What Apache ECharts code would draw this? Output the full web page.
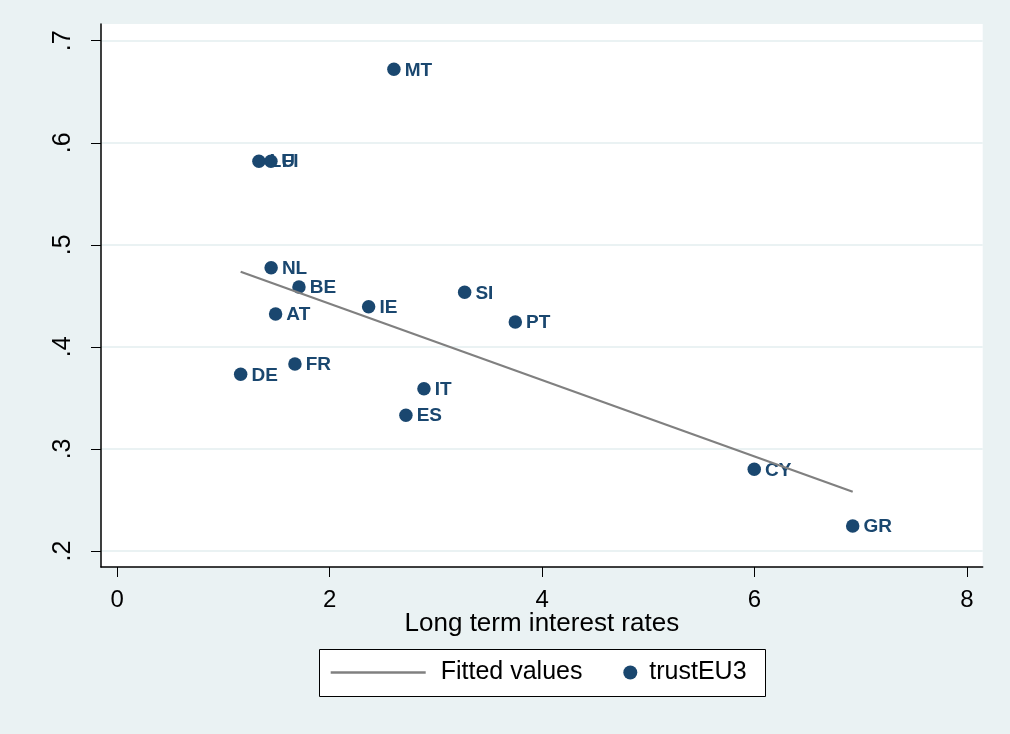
<!DOCTYPE html>
<html>
<head>
<meta charset="utf-8">
<script src="https://cdn.jsdelivr.net/npm/echarts@6/dist/echarts.min.js"></script>
<style>
html,body{margin:0;padding:0;background:#EAF2F3;}
#chart{width:1010px;height:734px;}
</style>
</head>
<body>
<div id="chart"></div>
<script>
// Data
const countries = ['MT','LU','FI','NL','BE','AT','IE','SI','PT','DE','FR','IT','ES','CY','GR'];
const interestRates = [2.605, 1.334, 1.447, 1.449, 1.711, 1.491, 2.367, 3.271, 3.748, 1.162, 1.673, 2.888, 2.718, 5.998, 6.925];
const trustEU3 = [0.672, 0.582, 0.582, 0.4776, 0.4587, 0.4322, 0.4394, 0.4535, 0.4244, 0.3731, 0.3832, 0.359, 0.333, 0.280, 0.2245];
const fittedX = [1.162, 6.925];
const fittedY = [0.4737, 0.2581];
const xTicks = [0, 2, 4, 6, 8];
const yTicks = [0.2, 0.3, 0.4, 0.5, 0.6, 0.7];

const navy = '#1a476f';
const font = 'Liberation Sans, Arial, sans-serif';

const scatterData = countries.map((c, i) => [interestRates[i], trustEU3[i], c]);
const fitData = fittedX.map((x, i) => [x, fittedY[i]]);

const chart = echarts.init(document.getElementById('chart'), null, {renderer: 'canvas'});
chart.setOption({
  backgroundColor: '#EAF2F3',
  animation: false,
  textStyle: {fontFamily: font},
  grid: {left: 101, top: 24, right: 27.3, bottom: 167, show: true, backgroundColor: '#ffffff', borderWidth: 0},
  xAxis: {
    type: 'value', min: -0.153, max: 8.149,
    name: 'Long term interest rates', nameLocation: 'middle', nameGap: 44, nameMoveOverlap: false,
    nameTextStyle: {fontSize: 26, color: '#000', fontFamily: font},
    axisLine: {show: true, onZero: false, lineStyle: {color: '#000', width: 1.5}},
    axisTick: {show: true, length: 10, customValues: xTicks, lineStyle: {color: '#000', width: 1}},
    axisLabel: {customValues: xTicks, fontSize: 24, color: '#000', margin: 21, fontFamily: font},
    splitLine: {show: false}
  },
  yAxis: {
    type: 'value', min: 0.1843, max: 0.7164,
    axisLine: {show: true, onZero: false, lineStyle: {color: '#000', width: 1.5}},
    axisTick: {show: true, length: 10, customValues: yTicks, lineStyle: {color: '#000', width: 1}},
    axisLabel: {customValues: yTicks, fontSize: 25, color: '#000', margin: 25, rotate: 90, fontFamily: font,
      formatter: v => String(Math.round(v * 10) / 10).replace(/^0/, '')},
    splitLine: {show: true, lineStyle: {color: '#EAF2F3', width: 2}}
  },
  legend: [
    {data: [{name: 'Fitted values', icon: 'rect'}], left: 330.7, top: 660, itemWidth: 95, itemHeight: 2.5, padding: 0,
     itemStyle: {color: '#808080'},
     textStyle: {fontSize: 25, color: '#000', fontFamily: font, padding: [0, 0, 0, 10]}},
    {data: ['trustEU3'], left: 623.3, top: 660, itemWidth: 14, itemHeight: 14, padding: 0,
     textStyle: {fontSize: 25, color: '#000', fontFamily: font, padding: [0, 0, 0, 7]}}
  ],
  graphic: [{
    type: 'rect', left: 319, top: 649, z: 0,
    shape: {width: 446, height: 47},
    style: {fill: '#ffffff', stroke: '#000', lineWidth: 1}
  }],
  series: [
    {
      name: 'Fitted values', type: 'line', data: fitData, symbol: 'none', showSymbol: false,
      lineStyle: {color: '#808080', width: 2.2}, itemStyle: {color: '#808080'}
    },
    {
      name: 'trustEU3', type: 'scatter', data: scatterData, symbol: 'circle', symbolSize: 13.5,
      itemStyle: {color: navy, opacity: 1},
      label: {show: true, position: 'right', distance: 4, formatter: p => p.data[2],
        fontSize: 19, fontWeight: 'bold', color: navy, fontFamily: font, offset: [0, 1]},
      emphasis: {disabled: true}
    }
  ]
});
</script>
</body>
</html>
